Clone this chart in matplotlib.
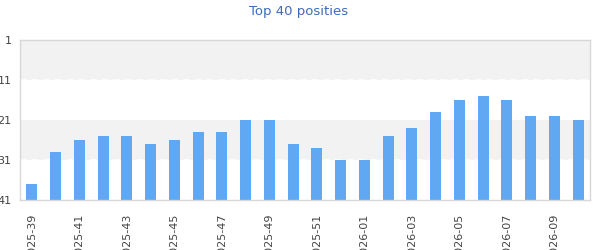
import matplotlib
matplotlib.use("Agg")
import matplotlib.pyplot as plt

weeks = [
    "2025-39", "2025-40", "2025-41", "2025-42", "2025-43", "2025-44",
    "2025-45", "2025-46", "2025-47", "2025-48", "2025-49", "2025-50",
    "2025-51", "2025-52", "2026-01", "2026-02", "2026-03", "2026-04",
    "2026-05", "2026-06", "2026-07", "2026-08", "2026-09", "2026-10",
]
positions = [37, 29, 26, 25, 25, 27, 26, 24, 24, 21, 21, 27,
             28, 31, 31, 25, 23, 19, 16, 15, 16, 20, 20, 21]
y_ticks = [1, 11, 21, 31, 41]
bands = [(1, 11), (21, 31)]

fig = plt.figure(figsize=(6, 2.5), dpi=100)
ax = fig.add_axes([20 / 600, 0.2, 570 / 600, 0.64])

for lo, hi in bands:
    ax.axhspan(lo, hi, color="#f2f2f2", lw=0, zorder=0)
for y in (11, 31):
    ax.axhline(y, color="white", lw=1.2, ls=(0, (4, 3)), zorder=1)

x = list(range(len(weeks)))
ax.bar(x, [41 - p for p in positions], bottom=positions, width=0.46,
       color="#60a8f2", zorder=2)

ax.set_xlim(-0.5, len(weeks) - 0.5)
ax.set_ylim(41, 1)
ax.set_yticks(y_ticks)
ax.set_yticklabels([str(t) for t in y_ticks])
ax.set_xticks(x[::2])
ax.set_xticklabels(weeks[::2], rotation=90, va="top", ha="center")
ax.tick_params(length=0, labelsize=8, colors="#444444")
ax.tick_params(axis="y", pad=6)
ax.tick_params(axis="x", pad=10)

for s in ax.spines.values():
    s.set_color("#d8d8d8")
    s.set_linewidth(1)

fig.text(0.497, 0.955, "Top 40 posities", ha="center", va="center",
         fontsize=9.5, color="#3d6bbf")

fig.savefig("out.png", dpi=100)
